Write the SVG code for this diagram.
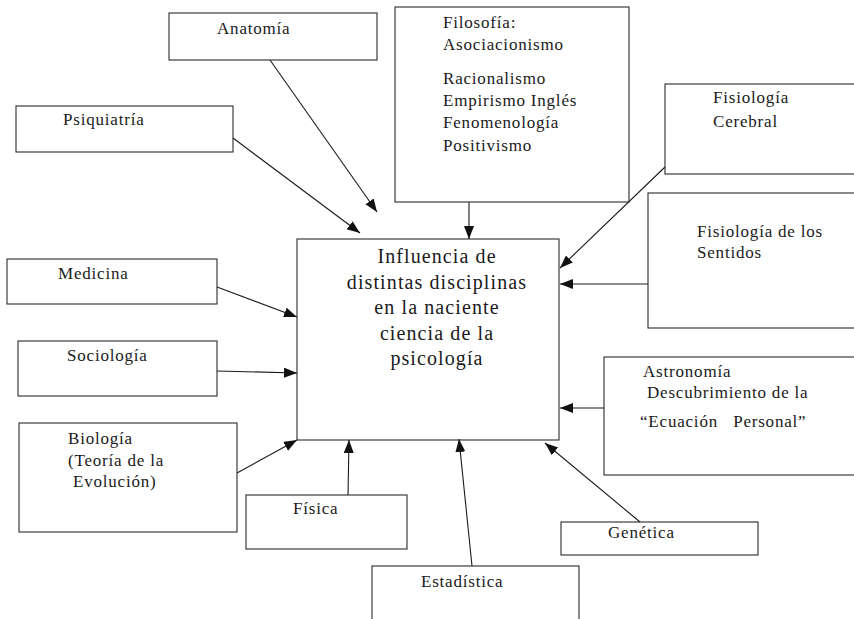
<svg xmlns="http://www.w3.org/2000/svg" width="854" height="619" viewBox="0 0 854 619">
<style>
.box{fill:none;stroke:#2a2a2a;stroke-width:1.1}
.t{font-family:"Liberation Serif","Times New Roman",serif;font-size:17px;letter-spacing:0.8px;fill:#1a1a1a}
.c{font-family:"Liberation Serif","Times New Roman",serif;font-size:20px;letter-spacing:1.1px;fill:#1a1a1a;text-anchor:middle}
.e{stroke:#1a1a1a;stroke-width:1.1;fill:none;marker-end:url(#ah)}
</style>
<defs>
<marker id="ah" markerUnits="userSpaceOnUse" markerWidth="15" markerHeight="11" refX="13" refY="5" orient="auto">
<path d="M0,0 L13,5 L0,10 Z" fill="#111"/>
</marker>
</defs>
<rect width="854" height="619" fill="#fff"/>
<g id="connectors">
<line class="e" x1="270" y1="60" x2="377" y2="212"/>
<line class="e" x1="233" y1="138" x2="360" y2="233"/>
<line class="e" x1="469" y1="202" x2="469" y2="239"/>
<line class="e" x1="665" y1="167" x2="560" y2="268"/>
<line class="e" x1="648" y1="284" x2="560" y2="284"/>
<line class="e" x1="217" y1="287" x2="297" y2="317"/>
<line class="e" x1="217" y1="371" x2="297" y2="373"/>
<line class="e" x1="237" y1="473" x2="297" y2="440"/>
<line class="e" x1="348" y1="495" x2="349" y2="440"/>
<line class="e" x1="472" y1="566" x2="459" y2="439"/>
<line class="e" x1="640" y1="522" x2="545" y2="443"/>
<line class="e" x1="604" y1="408" x2="560" y2="408"/>
</g>
<g id="center">
<rect class="box" x="297" y="239" width="262" height="201"/>
<text class="c" x="437" y="263">Influencia de</text>
<text class="c" x="437" y="288.5">distintas disciplinas</text>
<text class="c" x="437" y="314">en la naciente</text>
<text class="c" x="437" y="339.5">ciencia de la</text>
<text class="c" x="437" y="365">psicología</text>
</g>
<g id="anatomia">
<rect class="box" x="169" y="13" width="208" height="47"/>
<text class="t" x="217" y="34">Anatomía</text>
</g>
<g id="psiquiatria">
<rect class="box" x="16" y="106" width="217" height="46"/>
<text class="t" x="63" y="125">Psiquiatría</text>
</g>
<g id="filosofia">
<rect class="box" x="395" y="7" width="234" height="195"/>
<text class="t" x="443" y="28">Filosofía:</text>
<text class="t" x="443" y="50">Asociacionismo</text>
<text class="t" x="443" y="84">Racionalismo</text>
<text class="t" x="443" y="106">Empirismo Inglés</text>
<text class="t" x="443" y="128">Fenomenología</text>
<text class="t" x="443" y="151">Positivismo</text>
</g>
<g id="fisiologia-cerebral">
<rect class="box" x="665" y="84" width="200" height="90"/>
<text class="t" x="713" y="103">Fisiología</text>
<text class="t" x="713" y="127">Cerebral</text>
</g>
<g id="fisiologia-sentidos">
<rect class="box" x="648" y="193" width="217" height="135"/>
<text class="t" x="697" y="237">Fisiología de los</text>
<text class="t" x="697" y="258">Sentidos</text>
</g>
<g id="medicina">
<rect class="box" x="7" y="259" width="210" height="45"/>
<text class="t" x="58" y="279">Medicina</text>
</g>
<g id="sociologia">
<rect class="box" x="18" y="341" width="199" height="55"/>
<text class="t" x="67" y="361">Sociología</text>
</g>
<g id="biologia">
<rect class="box" x="19" y="423" width="218" height="109"/>
<text class="t" x="68" y="444">Biología</text>
<text class="t" x="68" y="466">(Teoría de la</text>
<text class="t" x="73" y="487">Evolución)</text>
</g>
<g id="fisica">
<rect class="box" x="246" y="495" width="161" height="54"/>
<text class="t" x="293" y="514">Física</text>
</g>
<g id="estadistica">
<rect class="box" x="372" y="566" width="207" height="70"/>
<text class="t" x="421" y="587">Estadística</text>
</g>
<g id="genetica">
<rect class="box" x="561" y="522" width="197" height="33"/>
<text class="t" x="608" y="538">Genética</text>
</g>
<g id="astronomia">
<rect class="box" x="604" y="357" width="261" height="118"/>
<text class="t" x="643" y="377">Astronomía</text>
<text class="t" x="647" y="398">Descubrimiento de la</text>
<text class="t" x="640" y="427" xml:space="preserve">“Ecuación   Personal”</text>
</g>
</svg>
